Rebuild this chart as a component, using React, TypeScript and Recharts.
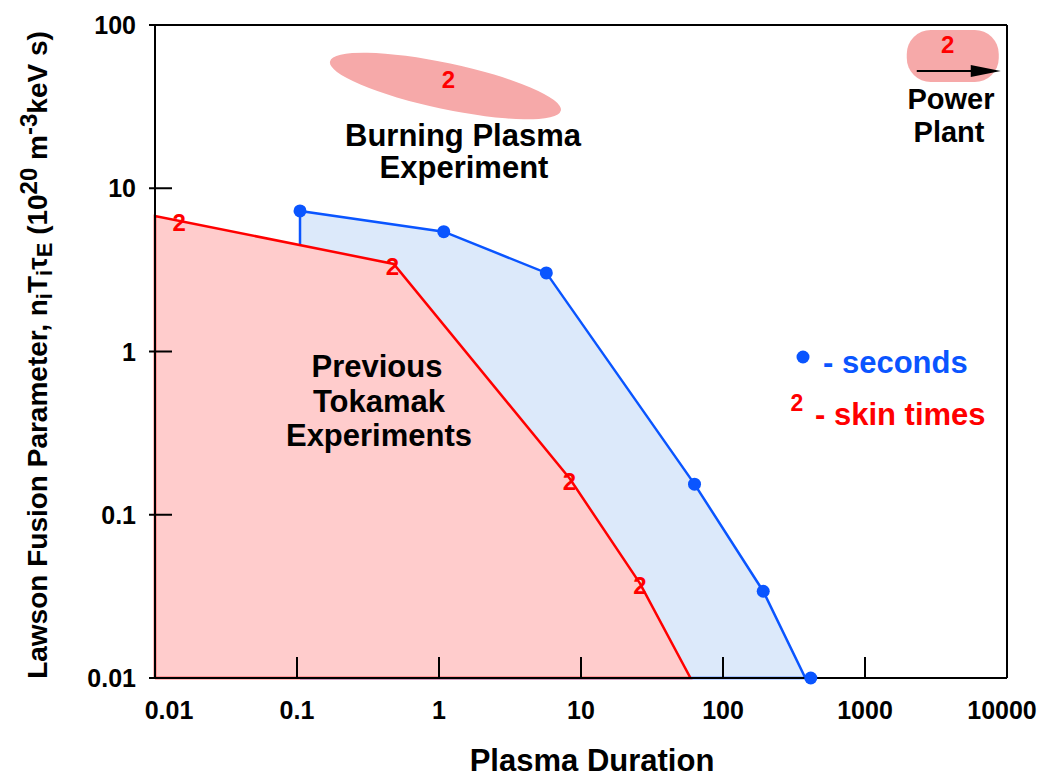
import React from "react";
import { Area, ComposedChart, ReferenceLine, Scatter, XAxis, YAxis } from "recharts";

const X_TICKS = [0.01, 0.1, 1, 10, 100, 1000, 10000];
const Y_TICKS = [0.01, 0.1, 1, 10, 100];

// previous tokamak experiments, closed outline (duration s, lawson parameter)
const tokamakDuration = [0.01, 0.01, 0.48, 8.35, 26, 59, 0.01];
const tokamakLawson = [0.01, 6.76, 3.44, 0.166, 0.038, 0.01, 0.01];

// newer experiments outline
const newDuration = [0.105, 0.105, 1.08, 5.7, 63, 192, 380, 0.105];
const newLawson = [0.01, 7.26, 5.42, 3.03, 0.154, 0.034, 0.01, 0.01];

// "seconds" markers
const secDuration = [0.105, 1.08, 5.7, 63, 192, 415];
const secLawson = [7.26, 5.42, 3.03, 0.154, 0.034, 0.01];

// "skin times" markers
const skinDuration = [0.0148, 0.47, 8.3, 26];
const skinLawson = [6.2, 3.35, 0.16, 0.037];

const burningDuration = [1.11];
const burningLawson = [42.3];
const plantDuration = [4150];
const plantLawson = [64.6];

const zip = (xs: number[], ys: number[]) => xs.map((x, i) => ({ x, y: ys[i] }));

const tokamakData = zip(tokamakDuration, tokamakLawson);
const newData = zip(newDuration, newLawson);
const secData = zip(secDuration, secLawson);
const skinData = zip(skinDuration, skinLawson);
const burningData = zip(burningDuration, burningLawson);
const plantData = zip(plantDuration, plantLawson);

const FONT = "'Liberation Sans', Arial, Helvetica, sans-serif";
const BLUE = "#0a55ff";
const RED = "#ff0000";
const BLOB = "#f6a9a9";

const XTick = (props: any) => {
  const { x, y, payload } = props;
  const v = payload.value;
  const dx = v === 0.01 ? 14 : v === 10000 ? -5 : 0;
  return (
    <g>
      {v !== 0.01 && <line x1={x} y1={y} x2={x} y2={y - 21} stroke="#000" strokeWidth={2} />}
      <text x={x + dx} y={y + 41} textAnchor="middle" fontSize={25} fontWeight="bold" fontFamily={FONT} fill="#000">
        {String(v)}
      </text>
    </g>
  );
};

const YTick = (props: any) => {
  const { x, y, payload } = props;
  return (
    <g>
      <line x1={x - 6} y1={y} x2={x + 17} y2={y} stroke="#000" strokeWidth={2} />
      <text x={x - 19} y={y + 9} textAnchor="end" fontSize={25} fontWeight="bold" fontFamily={FONT} fill="#000">
        {String(payload.value)}
      </text>
    </g>
  );
};

const SecondDot = (p: any) => <circle cx={p.cx} cy={p.cy} r={6.5} fill={BLUE} />;

const SkinMark = (p: any) => (
  <text x={p.cx} y={p.cy + 9} textAnchor="middle" fontSize={24} fontWeight="bold" fontFamily={FONT} fill={RED}>
    2
  </text>
);

const BurningBlob = (p: any) => (
  <g>
    <ellipse cx={p.cx} cy={p.cy} rx={118} ry={23} fill={BLOB} transform={`rotate(12 ${p.cx} ${p.cy})`} />
    <text x={p.cx + 3} y={p.cy + 2} textAnchor="middle" fontSize={24} fontWeight="bold" fontFamily={FONT} fill={RED}>
      2
    </text>
  </g>
);

const PlantPill = (p: any) => (
  <g>
    <rect x={p.cx - 46} y={p.cy - 26} width={92} height={52} rx={24} fill={BLOB} />
    <text x={p.cx - 5} y={p.cy - 3} textAnchor="middle" fontSize={24} fontWeight="bold" fontFamily={FONT} fill={RED}>
      2
    </text>
    <line x1={p.cx - 36} y1={p.cy + 15} x2={p.cx + 20} y2={p.cy + 15} stroke="#000" strokeWidth={2} />
    <polygon
      points={`${p.cx + 18},${p.cy + 9} ${p.cx + 48},${p.cy + 15} ${p.cx + 18},${p.cy + 21}`}
      fill="#000"
    />
  </g>
);

const txt = { fontFamily: FONT, fontWeight: "bold" as const, fill: "#000" };

export default function App() {
  return (
    <div style={{ position: "absolute", left: 0, top: 0, width: 1042, height: 780, background: "#fff" }}>
      <ComposedChart width={1042} height={780} margin={{ top: 25, right: 35, bottom: 0, left: 0 }}>
        <XAxis
          dataKey="x"
          type="number"
          scale="log"
          domain={[0.01, 10000]}
          ticks={X_TICKS}
          height={102}
          tickSize={0}
          tickMargin={0}
          tickLine={false}
          tick={XTick}
          axisLine={{ stroke: "#000", strokeWidth: 2 }}
        />
        <YAxis
          dataKey="y"
          type="number"
          scale="log"
          domain={[0.01, 100]}
          ticks={Y_TICKS}
          width={155}
          tickSize={0}
          tickMargin={0}
          tickLine={false}
          tick={YTick}
          axisLine={{ stroke: "#000", strokeWidth: 2 }}
        />
        <ReferenceLine y={100} stroke="#000" strokeWidth={2} />
        <ReferenceLine x={10000} stroke="#000" strokeWidth={2} />
        <Area
          data={newData}
          dataKey="y"
          type="linear"
          baseValue={0.01}
          stroke={BLUE}
          strokeWidth={2.5}
          fill="#dce9fa"
          fillOpacity={1}
          isAnimationActive={false}
        />
        <Area
          data={tokamakData}
          dataKey="y"
          type="linear"
          baseValue={0.01}
          stroke={RED}
          strokeWidth={2.5}
          fill="#ffcccc"
          fillOpacity={1}
          isAnimationActive={false}
        />
        <Scatter data={burningData} shape={BurningBlob} isAnimationActive={false} />
        <Scatter data={plantData} shape={PlantPill} isAnimationActive={false} />
        <Scatter data={secData} shape={SecondDot} isAnimationActive={false} />
        <Scatter data={skinData} shape={SkinMark} isAnimationActive={false} />
      </ComposedChart>
      <svg width={1042} height={780} style={{ position: "absolute", left: 0, top: 0, pointerEvents: "none" }}>
        <g {...txt} fontSize={31} textAnchor="middle">
          <text x={463} y={146}>Burning Plasma</text>
          <text x={464} y={178}>Experiment</text>
          <text x={377} y={377}>Previous</text>
          <text x={379} y={412}>Tokamak</text>
          <text x={379} y={446}>Experiments</text>
          <text x={592} y={771}>Plasma Duration</text>
        </g>
        <g {...txt} fontSize={29} textAnchor="middle">
          <text x={951} y={109}>Power</text>
          <text x={949} y={142}>Plant</text>
        </g>
        <text transform="translate(47,355) rotate(-90)" textAnchor="middle" fontSize={28} {...txt}>
          Lawson Fusion Parameter, n
          <tspan dy={5} fontSize={22}>i</tspan>
          <tspan dy={-5}>T</tspan>
          <tspan dy={5} fontSize={22}>i</tspan>
          <tspan dy={-5}>τ</tspan>
          <tspan dy={5} fontSize={22}>E</tspan>
          <tspan dy={-5}> (10</tspan>
          <tspan dy={-10} fontSize={24}>20</tspan>
          <tspan dy={10}> m</tspan>
          <tspan dy={-10} fontSize={24}>-3</tspan>
          <tspan dy={10}>keV s)</tspan>
        </text>
        <circle cx={803} cy={357} r={6.5} fill={BLUE} />
        <text x={823} y={373} fontSize={31} fontFamily={FONT} fontWeight="bold" fill={BLUE}>
          - seconds
        </text>
        <text x={797} y={411} textAnchor="middle" fontSize={23} fontFamily={FONT} fontWeight="bold" fill={RED}>
          2
        </text>
        <text x={815} y={425} fontSize={31} fontFamily={FONT} fontWeight="bold" fill={RED}>
          - skin times
        </text>
      </svg>
    </div>
  );
}
